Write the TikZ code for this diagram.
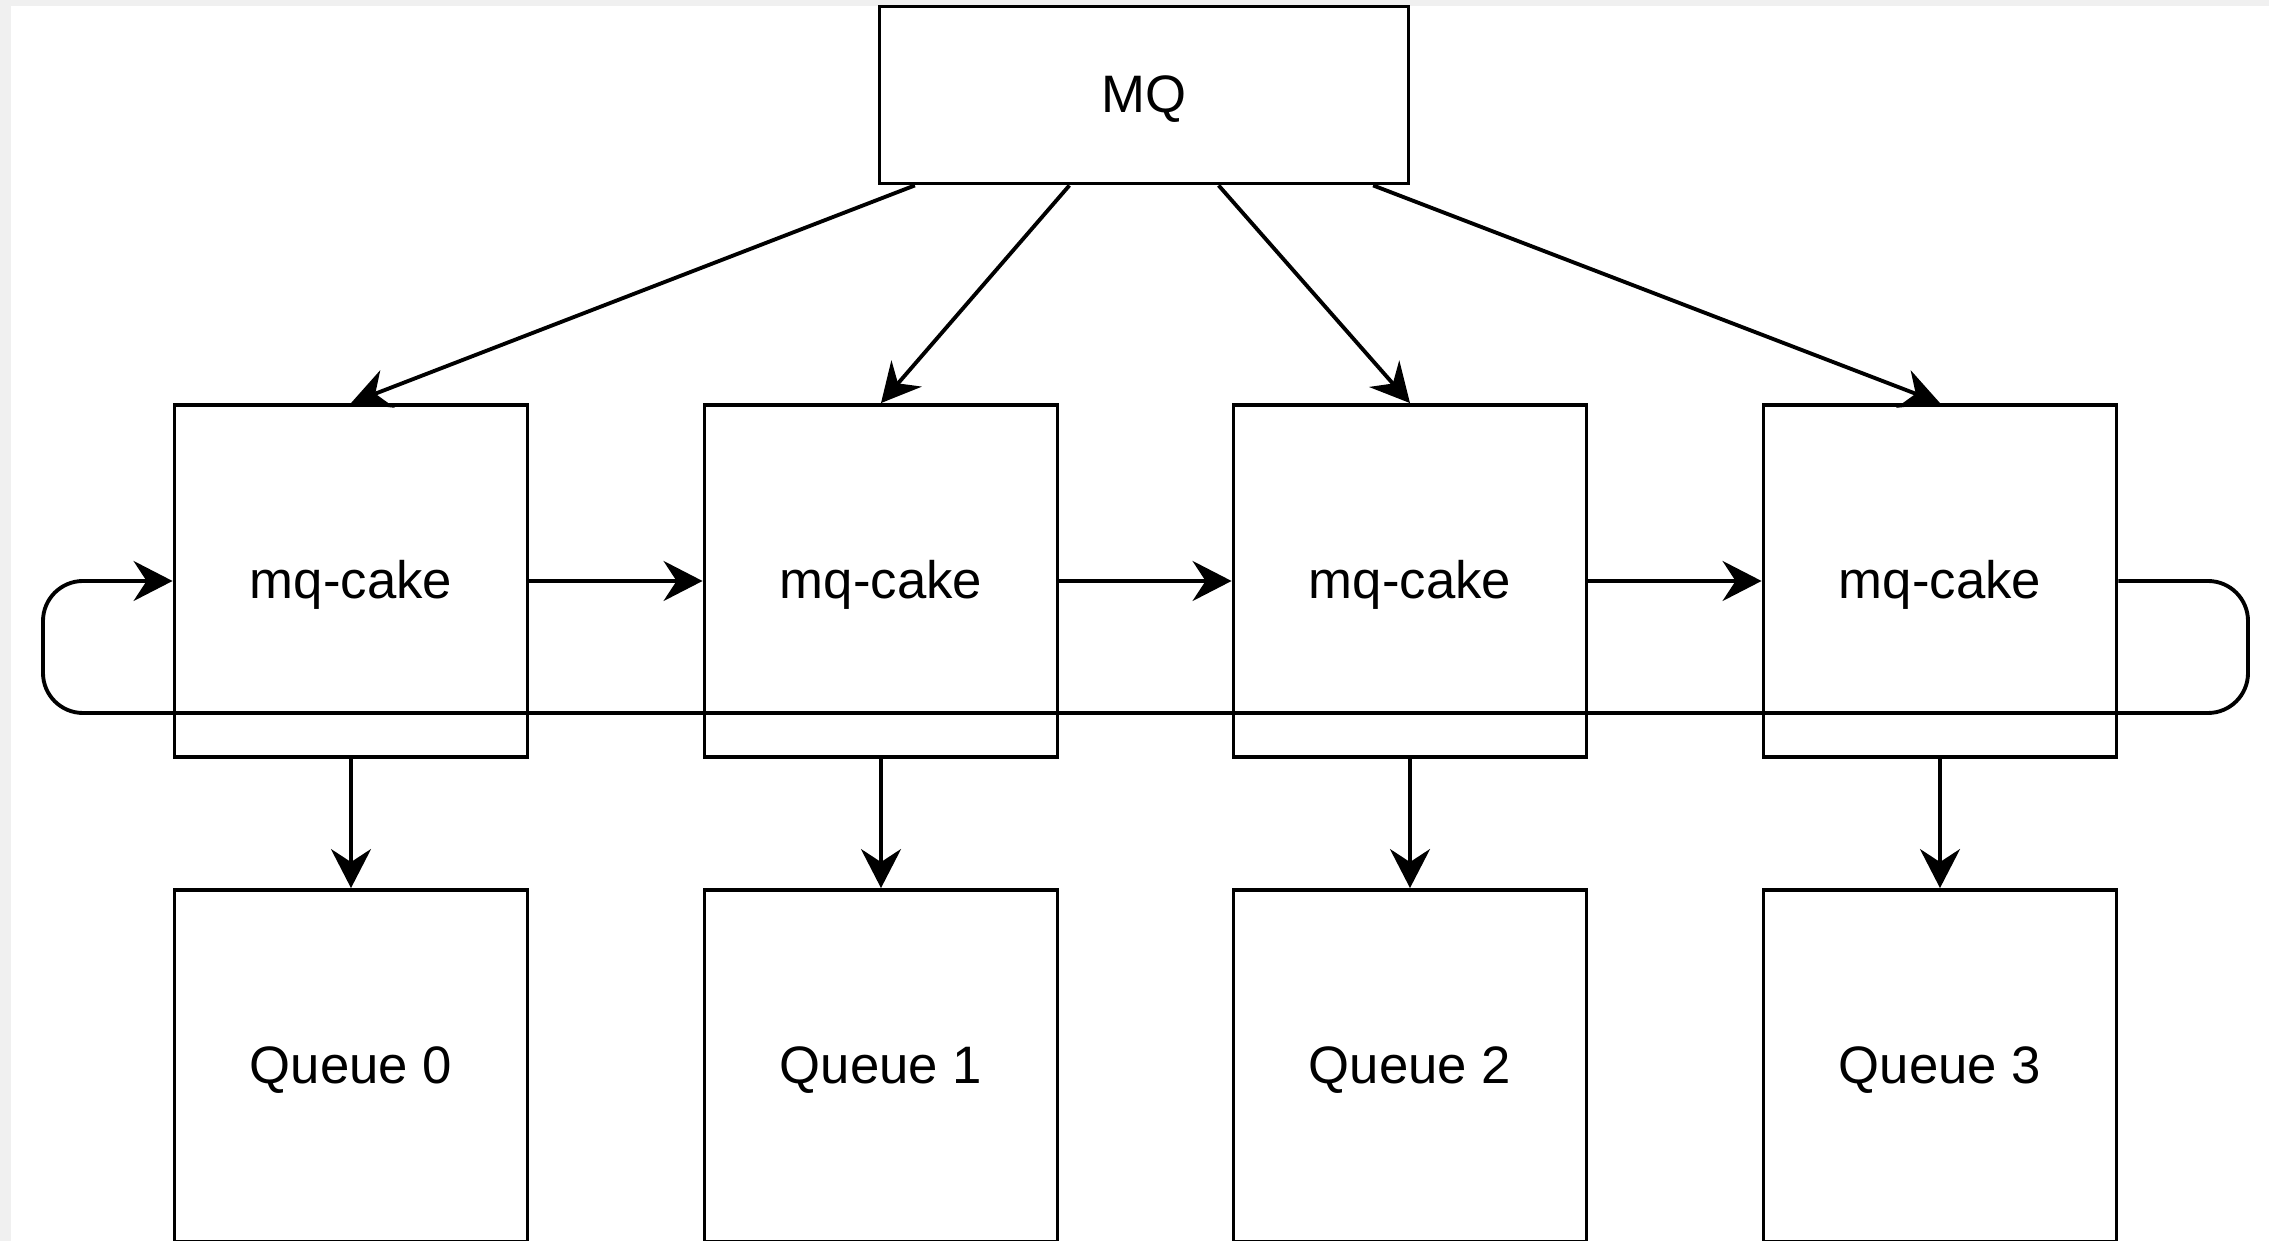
\documentclass[tikz,border=0pt]{standalone}
\usepackage{fontspec}
\setmainfont{Liberation Sans}
\usetikzlibrary{arrows.meta,calc}

\begin{document}
\begin{tikzpicture}[x=0.1mm,y=-0.1mm,
    >={Stealth[length=3.9mm,width=4mm,inset=1.3mm]}]
\useasboundingbox (0,0) rectangle (2269,1241);
\fill[gray!12] (0,0) rectangle (2269,1241);
\fill[white] (11,6) rectangle (2269,1241);

\begin{scope}[every node/.style={rectangle,draw,line width=1.1pt,
              font=\fontsize{15pt}{18pt}\selectfont,
              text height=13.5pt,text depth=3.5pt,
              minimum width=35.3mm,minimum height=35.2mm}]
    \node[minimum width=52.9mm,minimum height=17.7mm] (MQ) at (1144,95) {MQ};

    \node (Cake0) at (351,581) {mq-cake};
    \node (Cake1) at (881,581) {mq-cake};
    \node (Cake2) at (1410,581) {mq-cake};
    \node (Cake3) at (1940,581) {mq-cake};

    \node (Queue0) at (351,1066) {Queue 0};
    \node (Queue1) at (881,1066) {Queue 1};
    \node (Queue2) at (1410,1066) {Queue 2};
    \node (Queue3) at (1940,1066) {Queue 3};
\end{scope}

\coordinate (MQa) at ($(MQ.south west)!0.07!(MQ.south east)$);
\coordinate (MQb) at ($(MQ.south west)!0.36!(MQ.south east)$);
\coordinate (MQc) at ($(MQ.south west)!0.64!(MQ.south east)$);
\coordinate (MQd) at ($(MQ.south west)!0.93!(MQ.south east)$);

\begin{scope}[every edge/.style={draw=black,line width=1.1pt}]
    \path [->] (MQa) edge (Cake0.north);
    \path [->] (MQb) edge (Cake1.north);
    \path [->] (MQc) edge (Cake2.north);
    \path [->] (MQd) edge (Cake3.north);

    \path [->] (Cake0) edge (Cake1);
    \path [->] (Cake1) edge (Cake2);
    \path [->] (Cake2) edge (Cake3);

    \path [->] (Cake0) edge (Queue0);
    \path [->] (Cake1) edge (Queue1);
    \path [->] (Cake2) edge (Queue2);
    \path [->] (Cake3) edge (Queue3);
\end{scope}

% back from the last mq-cake to the first
\draw [->,line width=1.1pt,rounded corners=4mm] (Cake3.east) -- (2248,581)
    -- (2248,713) -- (43,713) -- (43,581) -- (Cake0.west);
\end{tikzpicture}
\end{document}
